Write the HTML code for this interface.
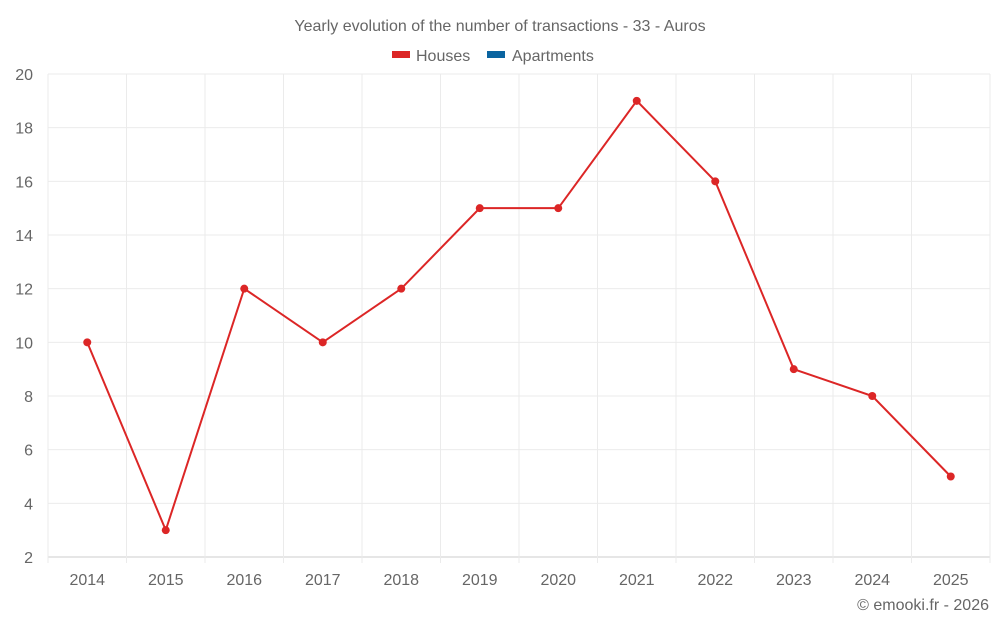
<!DOCTYPE html>
<html><head><meta charset="utf-8"><style>
body{margin:0;background:#fff;font-family:"Liberation Sans",sans-serif;}
svg text{font-family:"Liberation Sans",sans-serif;fill:#666;}
</style></head><body>
<svg id="chart" width="1000" height="625">
<text x="500" y="31" text-anchor="middle" font-size="16">Yearly evolution of the number of transactions - 33 - Auros</text>
<g>
<g><rect x="392" y="51" width="18" height="7" fill="#dc2626"/><text x="416" y="61" font-size="16">Houses</text></g>
<g><rect x="487" y="51" width="18" height="7" fill="#0a64a0"/><text x="512" y="61" font-size="16">Apartments</text></g>
</g>
<g id="grid"></g>
<g id="axes"></g>
<g id="series"></g>
<text x="989" y="610" text-anchor="end" font-size="16">© emooki.fr - 2026</text>
</svg>
<script>
const years=["2014","2015","2016","2017","2018","2019","2020","2021","2022","2023","2024","2025"];
const houses=[10,3,12,10,12,15,15,19,16,9,8,5];
const yTicks=[2,4,6,8,10,12,14,16,18,20];
const L=48,R=990,T=74,B=557,yMin=2,yMax=20;
const bw=(R-L)/years.length;
const x=i=>L+bw*(i+0.5);
const y=v=>B-(v-yMin)/(yMax-yMin)*(B-T);
const NS="http://www.w3.org/2000/svg";
function mk(t,a,p){const e=document.createElementNS(NS,t);for(const k in a)e.setAttribute(k,a[k]);p.appendChild(e);return e;}
const g=document.getElementById('grid'),ax=document.getElementById('axes'),s=document.getElementById('series');
yTicks.forEach(v=>{
 const l=mk('line',{x1:L,x2:R,y1:y(v),y2:y(v),stroke:v===yMin?'#ccc':'#ebebeb','stroke-width':1},g);
 
 
 const t=mk('text',{x:33,y:y(v)+6,'text-anchor':'end','font-size':16},ax);t.textContent=v;
 
 
});
for(let i=0;i<=years.length;i++){
 const l=mk('line',{x1:L+bw*i,x2:L+bw*i,y1:T,y2:B+6,stroke:'#ebebeb','stroke-width':1},g);
 
 
}
years.forEach((yr,i)=>{
 const t=mk('text',{x:x(i),y:585,'text-anchor':'middle','font-size':16},ax);t.textContent=yr;
 
 
});
const p=mk('polyline',{points:houses.map((v,i)=>x(i)+','+y(v)).join(' '),fill:'none',stroke:'#dc2626','stroke-width':2},s);


houses.forEach((v,i)=>{
 const c=mk('circle',{cx:x(i),cy:y(v),r:4,fill:'#dc2626'},s);
 
 
});
</script>
</body></html>
